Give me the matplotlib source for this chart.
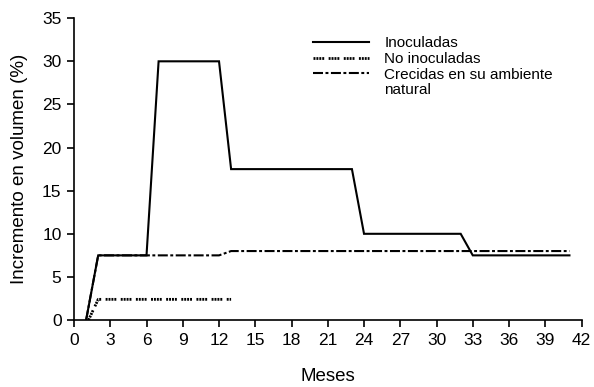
import matplotlib
matplotlib.use("Agg")
import matplotlib.pyplot as plt
from matplotlib.lines import Line2D

plt.rcParams['font.family'] = ['Liberation Sans', 'DejaVu Sans']

# Incremento en volumen (%) por mes
meses_inoculadas = [1, 2, 6, 7, 12, 13, 23, 24, 32, 33, 41]
inoculadas = [0, 7.5, 7.5, 30, 30, 17.5, 17.5, 10, 10, 7.5, 7.5]

meses_no_inoculadas = [1.2, 2, 13]
no_inoculadas = [0, 2.4, 2.4]

meses_natural = [1, 2, 12, 13, 41]
natural = [0, 7.5, 7.5, 8, 8]

x_ticks = list(range(0, 43, 3))
y_ticks = list(range(0, 36, 5))

fig = plt.figure(figsize=(5.94, 3.87), dpi=100)
ax = fig.add_axes([0.1246, 0.173, 0.979 - 0.1246, 0.953 - 0.173])

l1, = ax.plot(meses_inoculadas, inoculadas, color='black', lw=1.5,
              solid_joinstyle='miter')
l2, = ax.plot(meses_no_inoculadas, no_inoculadas, color='black', lw=2.0,
              linestyle=(0, (0.7, 0.35, 0.7, 0.35, 0.7, 0.35, 0.7, 1.6)))
l3, = ax.plot(meses_natural, natural, color='black', lw=1.5,
              linestyle=(0, (4.8, 1.2, 1.4, 1.2)))

ax.set_xlim(0, 42)
ax.set_ylim(0, 35)
ax.set_xticks(x_ticks)
ax.set_yticks(y_ticks)
ax.tick_params(direction='out', length=5, width=1.2, labelsize=12.5,
               color='black', pad=4)
for side in ('top', 'right'):
    ax.spines[side].set_visible(False)
for side in ('left', 'bottom'):
    ax.spines[side].set_linewidth(1.2)

ax.set_xlabel('Meses', fontsize=13.5, labelpad=15)
ax.set_ylabel('Incremento en volumen (%)', fontsize=13.5, labelpad=10)

blank = Line2D([], [], color='none')
ax.legend([l1, l2, l3, blank],
          ['Inoculadas', 'No inoculadas', 'Crecidas en su ambiente', 'natural'],
          loc='upper left', bbox_to_anchor=(0.443, 0.985), frameon=False,
          fontsize=11, handlelength=3.7, handletextpad=1.0, labelspacing=0.1)

fig.savefig('out.png', dpi=100)
